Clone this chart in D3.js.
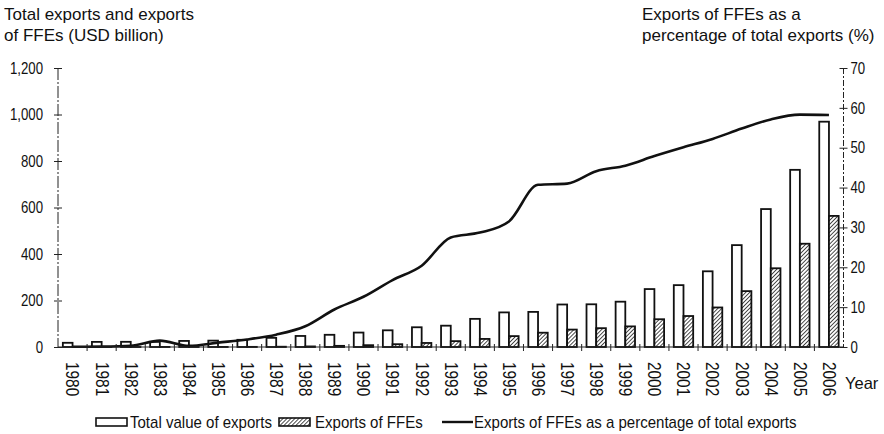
<!DOCTYPE html>
<html><head><meta charset="utf-8">
<script src="https://cdn.jsdelivr.net/npm/d3@7/dist/d3.min.js"></script>
<style>
body{margin:0;background:#fff;}
svg{display:block;}
text{font-family:"Liberation Sans",Arial,Helvetica,sans-serif;}
</style></head>
<body>
<script>
const years = ["1980","1981","1982","1983","1984","1985","1986","1987","1988","1989","1990","1991","1992","1993","1994","1995","1996","1997","1998","1999","2000","2001","2002","2003","2004","2005","2006"];
const totalExports = [18.1,22.0,22.3,22.2,26.1,27.4,30.9,39.4,47.5,52.5,62.1,71.8,84.9,91.7,121.0,148.8,151.0,182.8,183.7,194.9,249.2,266.1,325.6,438.2,593.3,762.0,969.1];
const ffeExports = [0.01,0.03,0.05,0.33,0.07,0.30,0.58,1.21,2.46,4.92,7.81,12.05,17.36,25.24,34.71,46.88,61.51,74.90,80.96,88.63,119.44,133.24,169.99,240.34,338.61,444.21,563.83];
const ffeShare = [0.05,0.1,0.3,1.6,0.3,1.1,1.9,3.1,5.2,9.4,12.6,16.8,20.4,27.5,28.7,31.5,40.7,41.0,44.1,45.5,47.9,50.1,52.2,54.8,57.1,58.3,58.2];
const leftTicks = [0,200,400,600,800,1000,1200];
const rightTicks = [0,10,20,30,40,50,60,70];

const W=884,H=434;
const svg=d3.select("body").append("svg").attr("width",W).attr("height",H);
const defs=svg.append("defs");
const pat=defs.append("pattern").attr("id","hatch").attr("patternUnits","userSpaceOnUse")
  .attr("width",2.8).attr("height",2.8).attr("patternTransform","rotate(45)");
pat.append("rect").attr("width",2.8).attr("height",2.8).attr("fill","#fff");
pat.append("line").attr("x1",0).attr("y1",0).attr("x2",0).attr("y2",2.8).attr("stroke","#222").attr("stroke-width",1.6);

const x=d3.scaleBand().domain(years).range([58,843.5]).padding(0);
const inner=d3.scaleBand().domain(["t","f"]).range([0,x.bandwidth()]).paddingInner(0).paddingOuter(0.5);
const yL=d3.scaleLinear().domain([0,1200]).range([347,68]);
const yR=d3.scaleLinear().domain([0,70]).range([347,68]);

// bars
const g=svg.append("g");
g.selectAll("rect.t").data(years).join("rect")
  .attr("x",d=>x(d)+inner("t")).attr("width",inner.bandwidth())
  .attr("y",(d,i)=>yL(totalExports[i])).attr("height",(d,i)=>yL(0)-yL(totalExports[i]))
  .attr("fill","#fff").attr("stroke","#111").attr("stroke-width",1.8);
g.selectAll("rect.f").data(years).join("rect")
  .attr("x",d=>x(d)+inner("f")).attr("width",inner.bandwidth())
  .attr("y",(d,i)=>yL(ffeExports[i])).attr("height",(d,i)=>yL(0)-yL(ffeExports[i]))
  .attr("fill","url(#hatch)").attr("stroke","#111").attr("stroke-width",1.8);

// line
const line=d3.line().x((d,i)=>x(years[i])+x.bandwidth()/2).y(d=>yR(d)).curve(d3.curveMonotoneX);
svg.append("path").datum(ffeShare).attr("d",line).attr("fill","none").attr("stroke","#111").attr("stroke-width",2.6);

// axes
const axL=svg.append("g").attr("transform","translate(58,0)")
  .call(d3.axisLeft(yL).tickValues(leftTicks).tickFormat(d3.format(",")).tickSize(4));
axL.selectAll(".tick line").attr("x2",4).attr("x1",-4);
axL.select(".domain").remove();
axL.selectAll("text").attr("x",-15/0.8).attr("transform","scale(0.8,1)");
svg.append("line").attr("x1",58).attr("x2",58).attr("y1",68).attr("y2",347).attr("stroke","#222").attr("stroke-width",1).attr("stroke-dasharray","12,2,2,2");

const axR=svg.append("g").attr("transform","translate(843.5,0)")
  .call(d3.axisRight(yR).tickValues(rightTicks).tickSize(4));
axR.selectAll(".tick line").attr("x2",4).attr("x1",-4);
axR.select(".domain").remove();
axR.selectAll("text").attr("x",7/0.8).attr("transform","scale(0.8,1)");
svg.append("line").attr("x1",843.5).attr("x2",843.5).attr("y1",68).attr("y2",347).attr("stroke","#222").attr("stroke-width",1).attr("stroke-dasharray","6,2,2,2");

[axL,axR].forEach(a=>{a.attr("font-family",null).attr("font-size",null);
  a.selectAll("text").attr("font-size",16.5).attr("fill","#111");
  a.selectAll(".tick line").attr("stroke","#222");});

const axB=svg.append("g").attr("transform","translate(0,347)");
axB.append("line").attr("x1",58).attr("x2",843.5).attr("stroke","#222").attr("stroke-width",1.2);
axB.selectAll("line.tk").data(years.slice(1)).join("line").attr("class","tk")
  .attr("x1",d=>x(d)).attr("x2",d=>x(d)).attr("y1",-3).attr("y2",4).attr("stroke","#222");
axB.selectAll("text").data(years).join("text")
  .attr("transform",d=>`translate(${x(d)+x.bandwidth()/2},15) rotate(90) scale(0.88,1)`)
  .attr("dy","0.35em").attr("font-size",17.5).attr("fill","#111").text(d=>d);

svg.append("text").attr("x",845).attr("y",389).attr("font-size",16.5).attr("fill","#111").text("Year");

// titles
const t1=svg.append("text").attr("font-size",17).attr("fill","#111");
t1.append("tspan").attr("x",4).attr("y",20).text("Total exports and exports");
t1.append("tspan").attr("x",4).attr("y",41).text("of FFEs (USD billion)");
const t2=svg.append("text").attr("font-size",17).attr("fill","#111");
t2.append("tspan").attr("x",642).attr("y",20).text("Exports of FFEs as a");
t2.append("tspan").attr("x",642).attr("y",41).text("percentage of total exports (%)");

// legend
const lg=svg.append("g").attr("font-size",16).attr("fill","#111");
const lt=(xx,s)=>lg.append("text").attr("transform",`translate(${xx},428) scale(0.94,1)`).text(s);
lg.append("rect").attr("x",96).attr("y",418).attr("width",31).attr("height",8).attr("fill","#fff").attr("stroke","#111").attr("stroke-width",1.6);
lt(130,"Total value of exports");
lg.append("rect").attr("x",279).attr("y",418).attr("width",31).attr("height",8).attr("fill","url(#hatch)").attr("stroke","#111").attr("stroke-width",1.6);
lt(315,"Exports of FFEs");
lg.append("line").attr("x1",442).attr("x2",473).attr("y1",422).attr("y2",422).attr("stroke","#111").attr("stroke-width",2.4);
lt(474,"Exports of FFEs as a percentage of total exports");
</script>
</body></html>
